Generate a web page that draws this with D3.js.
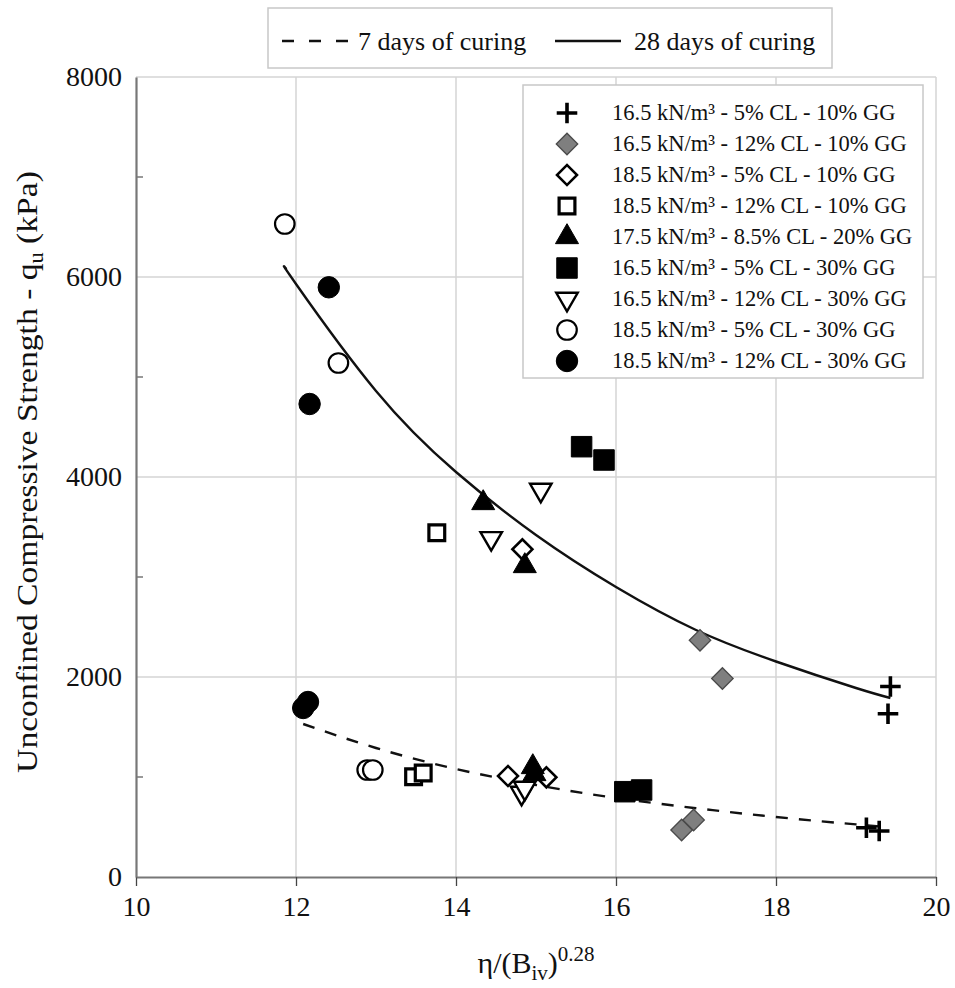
<!DOCTYPE html>
<html>
<head>
<meta charset="utf-8">
<script src="https://cdn.jsdelivr.net/npm/d3@7"></script>
<style>
  body { margin: 0; background: #fff; }
  text { font-family: "Liberation Serif", "Times New Roman", serif; fill: #111; }
</style>
</head>
<body>
<svg id="chart" width="955" height="988"></svg>
<script>
// axis ticks
const xTicks = [10, 12, 14, 16, 18, 20];
const yTicks = [0, 2000, 4000, 6000, 8000];
const yMinor = [1000, 3000, 5000, 7000];

// series labels (legend order)
const seriesLabels = [
  '16.5 kN/m³ - 5% CL - 10% GG',
  '16.5 kN/m³ - 12% CL - 10% GG',
  '18.5 kN/m³ - 5% CL - 10% GG',
  '18.5 kN/m³ - 12% CL - 10% GG',
  '17.5 kN/m³ - 8.5% CL - 20% GG',
  '16.5 kN/m³ - 5% CL - 30% GG',
  '16.5 kN/m³ - 12% CL - 30% GG',
  '18.5 kN/m³ - 5% CL - 30% GG',
  '18.5 kN/m³ - 12% CL - 30% GG'
];

// points [eta/Biv^0.28, qu]  (28 days first, then 7 days)
const ptsPlus        = [[19.43, 1905], [19.40, 1632], [19.13, 493], [19.29, 460]];
const ptsGreyDiamond = [[17.05, 2367], [17.33, 1985], [16.82, 470], [16.97, 570]];
const ptsOpenDiamond = [[14.83, 3277], [14.65, 1010], [15.13, 997]];
const ptsOpenSquare  = [[13.76, 3443], [13.47, 1003], [13.59, 1040]];
const ptsTriangle    = [[14.34, 3740], [14.86, 3110], [14.98, 1030], [14.96, 1100]];
const ptsSquare      = [[15.57, 4303], [15.85, 4170], [16.11, 853], [16.32, 870]];
const ptsOpenTriDown = [[15.06, 3870], [14.44, 3387], [14.82, 840], [14.86, 890]];
const ptsOpenCircle  = [[11.86, 6530], [12.53, 5140], [12.89, 1070], [12.96, 1070]];
const ptsCircle      = [[12.41, 5897], [12.17, 4730], [12.09, 1690], [12.15, 1750]];

// trend lines
const curve28 = [[11.88, 6080], [12, 5930], [13, 4860], [14, 4050], [15, 3420], [16, 2900],
                 [17, 2470], [18, 2155], [19, 1890], [19.43, 1790]];
const curve7  = [[12.09, 1530], [13, 1290], [14, 1080], [15, 920], [16, 790], [17, 688],
                 [18, 600], [19, 526], [19.40, 500]];

const svg = d3.select('#chart');

const x = d3.scaleLinear().domain([10, 20]).range([136, 936]);
const y = d3.scaleLinear().domain([0, 8000]).range([877, 77]);

// gridlines
svg.append('g')
  .selectAll('line')
  .data(yTicks.filter(d => d > 0))
  .join('line')
    .attr('x1', x(10)).attr('x2', x(20))
    .attr('y1', d => y(d)).attr('y2', d => y(d))
    .attr('stroke', '#d4d4d4').attr('stroke-width', 1.5);
svg.append('g')
  .selectAll('line')
  .data(xTicks.filter(d => d > 10))
  .join('line')
    .attr('x1', d => x(d)).attr('x2', d => x(d))
    .attr('y1', y(0)).attr('y2', y(8000))
    .attr('stroke', '#d4d4d4').attr('stroke-width', 1.5);

// axes
const xAxis = svg.append('g')
  .attr('transform', 'translate(0,' + y(0) + ')')
  .call(d3.axisBottom(x).tickValues(xTicks).tickSize(9).tickPadding(10).tickSizeOuter(0));
xAxis.select('.domain').attr('stroke', '#777').attr('stroke-width', 2.2);
xAxis.selectAll('.tick line').attr('stroke', '#444').attr('stroke-width', 1.3);
xAxis.selectAll('.tick text')
  .attr('font-size', 28).attr('fill', '#111')
  .style('font-family', '"Liberation Serif", serif');

const yAxis = svg.append('g')
  .attr('transform', 'translate(' + x(10) + ',0)')
  .call(d3.axisLeft(y).tickValues(yTicks).tickFormat(d3.format('d'))
    .tickSize(0).tickPadding(14).tickSizeOuter(0));
yAxis.select('.domain').attr('stroke', '#777').attr('stroke-width', 2.2);
yAxis.selectAll('.tick text')
  .attr('font-size', 28).attr('fill', '#111')
  .style('font-family', '"Liberation Serif", serif');
// minor ticks inside
svg.append('g')
  .selectAll('line')
  .data(yMinor)
  .join('line')
    .attr('x1', x(10)).attr('x2', x(10) + 7)
    .attr('y1', d => y(d)).attr('y2', d => y(d))
    .attr('stroke', '#777').attr('stroke-width', 1.5);

// axis titles
const xt = svg.append('text')
  .attr('x', 536).attr('y', 973)
  .attr('text-anchor', 'middle')
  .attr('font-size', 30);
xt.append('tspan').text('η/(B');
xt.append('tspan').attr('font-size', 21).attr('dy', 7).text('iv');
xt.append('tspan').attr('dy', -7).text(')');
xt.append('tspan').attr('font-size', 21).attr('dy', -12).text('0.28');

const yt = svg.append('text')
  .attr('transform', 'translate(37,472) rotate(-90) scale(1.12,1)')
  .attr('text-anchor', 'middle')
  .attr('font-size', 30);
yt.append('tspan').text('Unconfined Compressive Strength - q');
yt.append('tspan').attr('font-size', 20).attr('dy', 6).text('u');
yt.append('tspan').attr('dy', -6).text(' (kPa)');

// trend lines
const line = d3.line().x(d => x(d[0])).y(d => y(d[1])).curve(d3.curveNatural);
svg.append('path')
  .attr('d', line(curve28))
  .attr('fill', 'none').attr('stroke', '#111').attr('stroke-width', 2.4);
svg.append('path')
  .attr('d', line(curve7))
  .attr('fill', 'none').attr('stroke', '#111').attr('stroke-width', 2.4)
  .attr('stroke-dasharray', '12,11');

// marker styles
const plusType = d3.symbolPlus || {
  draw(ctx, size) {
    const r = Math.sqrt(size - Math.min(size / 7, 2)) * 0.87358;
    ctx.moveTo(-r, 0); ctx.lineTo(r, 0); ctx.moveTo(0, r); ctx.lineTo(0, -r);
  }
};
const styles = [
  { type: plusType, size: 140, fill: 'none', stroke: '#000', sw: 3.6, rot: 0 },
  { type: d3.symbolSquare, size: 230, fill: '#7f7f7f', stroke: '#4a4a4a', sw: 1.3, rot: 45 },
  { type: d3.symbolSquare, size: 200, fill: '#fff', stroke: '#000', sw: 2.6, rot: 45 },
  { type: d3.symbolSquare, size: 250, fill: '#fff', stroke: '#000', sw: 3.2, rot: 0 },
  { type: d3.symbolTriangle, size: 230, fill: '#000', stroke: '#000', sw: 1, rot: 0 },
  { type: d3.symbolSquare, size: 420, fill: '#000', stroke: '#000', sw: 1, rot: 0 },
  { type: d3.symbolTriangle, size: 200, fill: '#fff', stroke: '#000', sw: 2.4, rot: 180 },
  { type: d3.symbolCircle, size: 300, fill: '#fff', stroke: '#000', sw: 2.2, rot: 0 },
  { type: d3.symbolCircle, size: 360, fill: '#000', stroke: '#000', sw: 1, rot: 0 }
];
const seriesPts = [ptsPlus, ptsGreyDiamond, ptsOpenDiamond, ptsOpenSquare, ptsTriangle,
                   ptsSquare, ptsOpenTriDown, ptsOpenCircle, ptsCircle];

function drawMarker(sel, st) {
  sel.attr('d', d3.symbol().type(st.type).size(st.size))
    .attr('fill', st.fill)
    .attr('stroke', st.stroke)
    .attr('stroke-width', st.sw);
}

const markerOrder = [0, 1, 2, 3, 5, 6, 4, 7, 8];
markerOrder.forEach(i => {
  const st = styles[i];
  svg.append('g')
    .selectAll('path')
    .data(seriesPts[i])
    .join('path')
      .attr('transform', d => 'translate(' + x(d[0]) + ',' + y(d[1]) + ') rotate(' + st.rot + ')')
      .call(drawMarker, st);
});

// series legend
const leg = svg.append('g');
leg.append('rect')
  .attr('x', 523).attr('y', 85).attr('width', 400).attr('height', 293)
  .attr('fill', '#fff').attr('stroke', '#c8c8c8').attr('stroke-width', 1.5);
seriesLabels.forEach((lab, i) => {
  const st = styles[i];
  const cy = 113 + i * 31;
  leg.append('path')
    .attr('transform', 'translate(567,' + cy + ') rotate(' + st.rot + ')')
    .call(drawMarker, st);
  leg.append('text')
    .attr('x', 612).attr('y', cy)
    .attr('dy', '0.33em')
    .attr('font-size', 22.5)
    .text(lab);
});

// curing legend
const curingLeg = svg.append('g');
curingLeg.append('rect')
  .attr('x', 268).attr('y', 8).attr('width', 564).attr('height', 60)
  .attr('fill', '#fff').attr('stroke', '#c8c8c8').attr('stroke-width', 1.5);
curingLeg.append('line')
  .attr('x1', 282).attr('x2', 349).attr('y1', 41).attr('y2', 41)
  .attr('stroke', '#111').attr('stroke-width', 2.6).attr('stroke-dasharray', '12,15');
curingLeg.append('text').attr('x', 358).attr('y', 41).attr('dy', '0.33em')
  .attr('font-size', 26).text('7 days of curing');
curingLeg.append('line')
  .attr('x1', 555).attr('x2', 621).attr('y1', 41).attr('y2', 41)
  .attr('stroke', '#111').attr('stroke-width', 2.6);
curingLeg.append('text').attr('x', 634).attr('y', 41).attr('dy', '0.33em')
  .attr('font-size', 26).text('28 days of curing');
</script>
</body>
</html>
